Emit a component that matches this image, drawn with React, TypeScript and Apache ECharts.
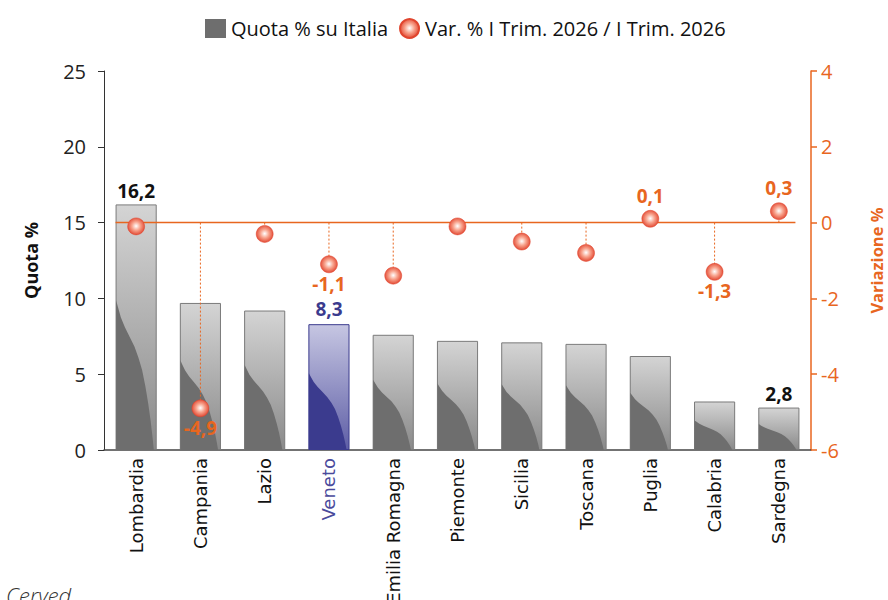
import React, { useEffect, useRef } from "react";
import * as echarts from "echarts";

// ---- data ----
const categories = [
  "Lombardia",
  "Campania",
  "Lazio",
  "Veneto",
  "Emilia Romagna",
  "Piemonte",
  "Sicilia",
  "Toscana",
  "Puglia",
  "Calabria",
  "Sardegna",
];
const quota = [16.2, 9.7, 9.2, 8.3, 7.6, 7.2, 7.1, 7.0, 6.2, 3.2, 2.8];
const variazione = [-0.1, -4.9, -0.3, -1.1, -1.4, -0.1, -0.5, -0.8, 0.1, -1.3, 0.3];
const quotaLabelled = ["Lombardia", "Veneto", "Sardegna"];
const variazioneLabelPos: Record<string, string> = {
  Campania: "bottom",
  Veneto: "bottom",
  Puglia: "top",
  Calabria: "bottom",
  Sardegna: "top",
};
const highlight = "Veneto";
const leftMin = 0;
const leftMax = 25;
const leftStep = 5;
const rightMin = -6;
const rightMax = 4;
const rightStep = 2;
const seriesNames = ["Quota % su Italia", "Var. % I Trim. 2026 / I Trim. 2026"];
const footer = "Cerved";

// ---- styles ----
const ORANGE = "#e8661f";
const BLUE_TEXT = "#4a4a9c";
const BLUE_DARK = "#3b3b8e";
const GREY_DARK = "#6e6e6e";
const BAR_W = 0.64;
// wave boundary (fraction of bar width, fraction of bar height from top)
const WAVE = [
  [0, 0.39],
  [0.05, 0.42],
  [0.12, 0.46],
  [0.22, 0.5],
  [0.34, 0.54],
  [0.46, 0.58],
  [0.56, 0.625],
  [0.65, 0.675],
  [0.73, 0.74],
  [0.8, 0.81],
  [0.86, 0.88],
  [0.91, 0.95],
  [0.94, 1.0],
  [0, 1.0],
];

const fmt = (v: number) => v.toFixed(1).replace(".", ",");

export default function App() {
  const ref = useRef<HTMLDivElement>(null);

  useEffect(() => {
    if (!ref.current) return;
    const chart = echarts.init(ref.current, undefined, { renderer: "svg" });

    const barData = quota.map((v, i) => {
      const isHi = categories[i] === highlight;
      return {
        value: v,
        itemStyle: {
          color: {
            type: "linear",
            x: 0,
            y: 0,
            x2: 0,
            y2: 1,
            colorStops: isHi
              ? [
                  { offset: 0, color: "#c6c6e2" },
                  { offset: 1, color: "#5e5ea6" },
                ]
              : [
                  { offset: 0, color: "#d4d4d4" },
                  { offset: 1, color: "#8a8a8a" },
                ],
          },
          borderColor: isHi ? BLUE_DARK : "#7a7a7a",
          borderWidth: 1,
        },
        label: {
          show: quotaLabelled.includes(categories[i]),
          color: isHi ? BLUE_DARK : "#111",
          distance: isHi ? 6 : 4,
        },
      };
    });

    const scatterData = variazione.map((v, i) => {
      const pos = variazioneLabelPos[categories[i]];
      return {
        value: v,
        label: { show: !!pos, position: pos || "top", distance: pos === "top" ? 5 : 1 },
      };
    });

    const option: any = {
      animation: false,
      legend: {
        top: 13,
        left: 200,
        itemGap: 11,
        itemWidth: 21,
        itemHeight: 19,
        textStyle: { fontFamily: "Open Sans", fontSize: 20, color: "#111" },
        data: [
          { name: seriesNames[0], icon: "rect", itemStyle: { color: GREY_DARK, borderWidth: 0 } },
          { name: seriesNames[1], icon: "circle" },
        ],
      },
      grid: {
        left: 104,
        right: 77,
        top: 71,
        bottom: 150,
        containLabel: false,
        outerBoundsMode: "none",
      },
      xAxis: {
        type: "category",
        data: categories,
        axisLine: { lineStyle: { color: "#444", width: 1.5 } },
        axisTick: { show: false },
        axisLabel: {
          interval: 0,
          rotate: 90,
          margin: 8,
          fontFamily: "DejaVu Sans",
          fontSize: 18,
          color: (val: string) => (val === highlight ? BLUE_TEXT : "#111"),
        },
      },
      yAxis: [
        {
          type: "value",
          min: leftMin,
          max: leftMax,
          interval: leftStep,
          name: "Quota %",
          nameLocation: "middle",
          nameGap: 64,
          nameRotate: 90,
          nameTextStyle: { fontFamily: "Open Sans", fontSize: 18, fontWeight: "bold", color: "#111" },
          axisLine: { show: true, lineStyle: { color: "#333" } },
          axisTick: { show: true, length: 6, lineStyle: { color: "#333" } },
          splitLine: { show: false },
          axisLabel: { fontFamily: "Open Sans", fontSize: 20, color: "#222", margin: 18 },
        },
        {
          type: "value",
          min: rightMin,
          max: rightMax,
          interval: rightStep,
          position: "right",
          name: "Variazione %",
          nameLocation: "middle",
          nameGap: 57,
          nameRotate: 90,
          nameTextStyle: { fontFamily: "Open Sans", fontSize: 16.5, fontWeight: "bold", color: ORANGE },
          axisLine: { show: true, lineStyle: { color: ORANGE, width: 1.5 } },
          axisTick: { show: true, length: 6, lineStyle: { color: ORANGE, width: 1.5 } },
          splitLine: { show: false },
          axisLabel: { fontFamily: "Open Sans", fontSize: 20, color: ORANGE, margin: 10 },
        },
      ],
      series: [
        {
          name: seriesNames[0],
          type: "bar",
          yAxisIndex: 0,
          barWidth: BAR_W * 100 + "%",
          data: barData,
          itemStyle: { color: GREY_DARK },
          z: 2,
          label: {
            position: "top",
            fontFamily: "Open Sans",
            fontSize: 19,
            fontWeight: "bold",
            formatter: (p: any) => fmt(p.value),
          },
        },
        {
          name: "wave",
          type: "custom",
          yAxisIndex: 0,
          z: 3,
          silent: true,
          data: quota.map((v, i) => [i, v]),
          renderItem: (params: any, api: any) => {
            const i = api.value(0);
            const v = api.value(1);
            const top = api.coord([i, v]);
            const base = api.coord([i, 0]);
            const w = api.size([1, 0])[0] * BAR_W;
            const x0 = top[0] - w / 2 + 0.5;
            const ww = w - 1;
            const h = base[1] - top[1];
            const pts = WAVE.map(([fx, fy]) => [x0 + fx * ww, top[1] + fy * h]);
            const isHi = categories[params.dataIndex] === highlight;
            return {
              type: "polygon",
              shape: { points: pts },
              style: { fill: isHi ? BLUE_DARK : GREY_DARK },
            };
          },
        },
        {
          name: "drop",
          type: "custom",
          yAxisIndex: 1,
          z: 4,
          silent: true,
          data: variazione.map((v, i) => [i, v]),
          renderItem: (params: any, api: any) => {
            const i = api.value(0);
            const v = api.value(1);
            const p0 = api.coord([i, 0]);
            const p1 = api.coord([i, v]);
            const children: any[] = [
              {
                type: "line",
                shape: { x1: p0[0], y1: p0[1], x2: p1[0], y2: p1[1] },
                style: { stroke: ORANGE, lineWidth: 1, lineDash: [2, 2] },
              },
            ];
            if (params.dataIndex === 0) {
              const w = api.size([1, 0])[0] * BAR_W;
              const last = api.coord([categories.length - 1, 0]);
              children.push({
                type: "line",
                shape: { x1: p0[0] - w / 2, y1: p0[1], x2: last[0] + w / 2 - 4, y2: p0[1] },
                style: { stroke: ORANGE, lineWidth: 1.5 },
              });
            }
            return { type: "group", children };
          },
        },
        {
          name: seriesNames[1],
          type: "scatter",
          yAxisIndex: 1,
          z: 5,
          symbol: "circle",
          symbolSize: 17,
          data: scatterData,
          itemStyle: {
            color: {
              type: "radial",
              x: 0.5,
              y: 0.48,
              r: 0.55,
              colorStops: [
                { offset: 0, color: "#ffffff" },
                { offset: 0.45, color: "#f8a48e" },
                { offset: 1, color: "#e0402a" },
              ],
            },
            borderColor: "#e0452e",
            borderWidth: 0.5,
            opacity: 1,
          },
          label: {
            fontFamily: "Open Sans",
            fontSize: 19,
            fontWeight: "bold",
            color: ORANGE,
            formatter: (p: any) => fmt(p.value),
          },
        },
      ],
      graphic: [
        {
          type: "text",
          left: 6,
          top: 584,
          style: {
            text: footer,
            fontFamily: "Open Sans",
            fontStyle: "italic",
            fontWeight: 300,
            fontSize: 22,
            fill: "#333",
          },
        },
      ],
    };

    chart.setOption(option);
    return () => chart.dispose();
  }, []);

  return (
    <div
      ref={ref}
      style={{ position: "absolute", left: 0, top: 0, width: 888, height: 600 }}
    />
  );
}
